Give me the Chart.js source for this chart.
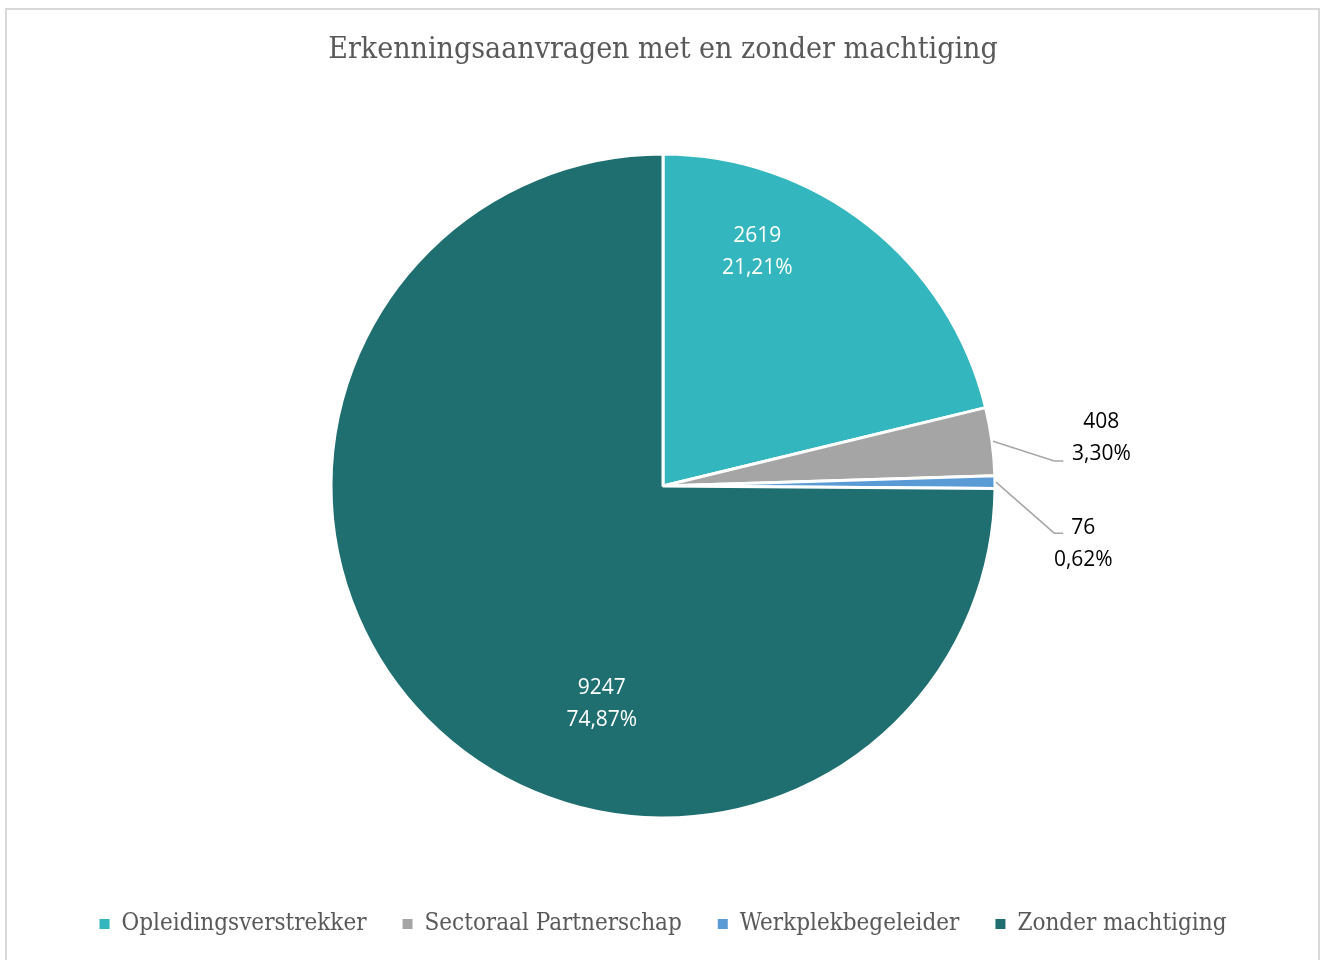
<!DOCTYPE html>
<html>
<head>
<meta charset="utf-8">
<script src="https://cdn.jsdelivr.net/npm/chart.js@4.4.1/dist/chart.umd.min.js"></script>
<style>
  html, body { margin: 0; padding: 0; background: #ffffff; overflow: hidden; }
  #frame { position: absolute; left: 5px; top: 8px; width: 1311px; height: 1000px; border: 2px solid #d9d9d9; box-sizing: content-box; }
  #wrap { position: absolute; left: 0; top: 0; width: 1322px; height: 960px; }
</style>
</head>
<body>
<div id="frame"></div>
<div id="wrap"><canvas id="c" width="1322" height="960"></canvas></div>
<script>
// ---- data ----
const titleText = 'Erkenningsaanvragen met en zonder machtiging';
const categories = ['Opleidingsverstrekker', 'Sectoraal Partnerschap', 'Werkplekbegeleider', 'Zonder machtiging'];
const values = [2619, 408, 76, 9247];

// ---- styles ----
const colors = ['#33B6BD', '#A5A5A5', '#5B9BD5', '#1F6E70'];
const labelColors = ['#ffffff', '#000000', '#000000', '#ffffff'];
// label placement (polar: angle in degrees from +x, clockwise; distance as fraction of radius)
const labelPlace = [
  { ang: -68.2, dist: 0.765 },
  { ang: -6.53, dist: 1.329 },
  { ang: 7.55, dist: 1.277 },
  { ang: 105.8, dist: 0.677 }
];
const leaderElbow = [null, { ang: -3.67, dist: 1.181 }, { ang: 6.87, dist: 1.187 }, null];

const total = values.reduce((a, b) => a + b, 0);
const pctText = values.map(v => (v / total * 100).toFixed(2).replace('.', ',') + '%');

const serif = '"DejaVu Serif Condensed", "DejaVu Serif", serif';
const sans = '"Open Sans", "Noto Sans", sans-serif';

const labelPlugin = {
  id: 'pieLabels',
  afterDatasetsDraw(chart) {
    const ctx = chart.ctx;
    const meta = chart.getDatasetMeta(0);
    ctx.save();
    meta.data.forEach((arc, i) => {
      const R = arc.outerRadius;
      const cx = arc.x, cy = arc.y;
      const el = leaderElbow[i];
      if (el) {
        const mid = (arc.startAngle + arc.endAngle) / 2;
        const sx = cx + (R + 1) * Math.cos(mid);
        const sy = cy + (R + 1) * Math.sin(mid);
        const ea = el.ang * Math.PI / 180;
        const ex = cx + el.dist * R * Math.cos(ea);
        const ey = cy + el.dist * R * Math.sin(ea);
        ctx.beginPath();
        ctx.strokeStyle = '#a6a6a6';
        ctx.lineWidth = 1.5;
        ctx.moveTo(sx, sy);
        ctx.lineTo(ex, ey);
        ctx.lineTo(ex + 9, ey);
        ctx.stroke();
      }
      const p = labelPlace[i];
      const a = p.ang * Math.PI / 180;
      const lx = cx + p.dist * R * Math.cos(a);
      const ly = cy + p.dist * R * Math.sin(a) + 2;
      ctx.fillStyle = labelColors[i];
      ctx.font = '21px ' + sans;
      ctx.textAlign = 'center';
      ctx.textBaseline = 'middle';
      ctx.fillText(String(values[i]), lx, ly - 16);
      ctx.fillText(pctText[i], lx, ly + 16);
    });
    ctx.restore();
  }
};

new Chart(document.getElementById('c'), {
  type: 'pie',
  data: {
    labels: categories,
    datasets: [{
      data: values,
      backgroundColor: colors,
      borderColor: '#ffffff',
      borderWidth: 3,
      radius: 332
    }]
  },
  options: {
    responsive: false,
    animation: false,
    layout: { padding: { top: 22, bottom: 14, left: 4, right: 0 } },
    plugins: {
      title: {
        display: true,
        text: titleText,
        color: '#595959',
        font: { family: serif, size: 30, weight: 'normal', lineHeight: 1.2 },
        padding: { top: 10, bottom: 28 }
      },
      legend: {
        display: true,
        position: 'bottom',
        labels: {
          color: '#595959',
          font: { family: serif, size: 24 },
          boxWidth: 10,
          boxHeight: 10,
          padding: 36,
          generateLabels(chart) {
            return categories.map((c, i) => ({
              text: c,
              fillStyle: colors[i],
              strokeStyle: colors[i],
              lineWidth: 0,
              hidden: false,
              index: i,
              fontColor: '#595959'
            }));
          }
        }
      },
      tooltip: { enabled: false }
    }
  },
  plugins: [labelPlugin]
});
</script>
</body>
</html>
